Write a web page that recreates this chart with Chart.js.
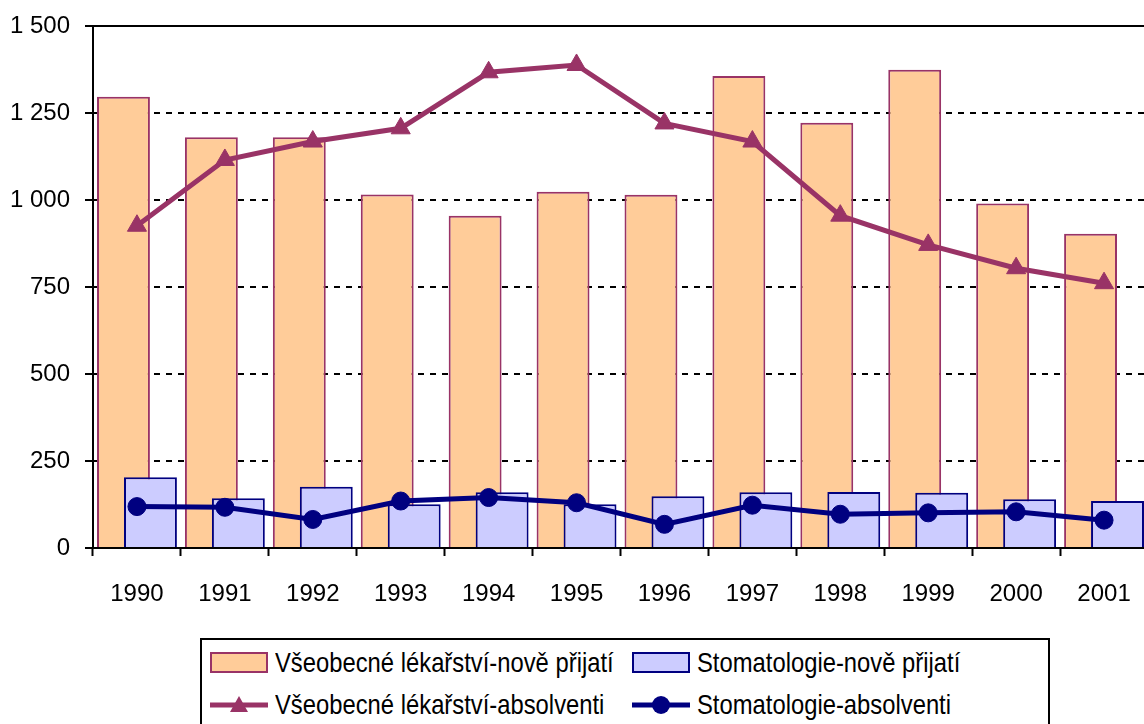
<!DOCTYPE html>
<html>
<head>
<meta charset="utf-8">
<script src="https://cdn.jsdelivr.net/npm/chart.js@4.4.1/dist/chart.umd.min.js"></script>
<style>
  html, body { margin: 0; padding: 0; background: #fff; overflow: hidden; width: 1144px; height: 724px; }
  #wrap { position: absolute; left: 0; top: 0; width: 1160px; height: 624px; }
  #legend {
    position: absolute; left: 200px; top: 638px; width: 846px; height: 100px;
    border: 2px solid #000; background: #fff;
    font-family: 'Liberation Sans', Arial, sans-serif;
    font-size: 28px; color: #000;
  }
  .item { position: absolute; height: 42px; line-height: 42px; white-space: nowrap; }
  .item svg { position: absolute; left: 0; top: 10px; }
  .item span { position: absolute; left: 65px; top: 0; transform: scaleX(0.85); transform-origin: 0 50%; }
</style>
</head>
<body>
<div id="wrap"><canvas id="chart" width="1160" height="624"></canvas></div>
<div id="legend"></div>
<script>
const years = ['1990', '1991', '1992', '1993', '1994', '1995', '1996', '1997', '1998', '1999', '2000', '2001'];
const lekarstviPrijati = [1297, 1180, 1180, 1016, 955, 1024, 1015, 1356, 1222, 1374, 990, 903];
const stomatologiePrijati = [203, 143, 176, 126, 160, 126, 149, 160, 161, 159, 140, 135];
const lekarstviAbsolventi = [926, 1115, 1168, 1206, 1367, 1388, 1220, 1168, 955, 871, 804, 761];
const stomatologieAbsolventi = [119, 117, 82, 135, 145, 130, 68, 123, 97, 101, 104, 80];
const yTicks = [0, 250, 500, 750, 1000, 1250, 1500];

const names = [
  'Všeobecné lékařství-nově přijatí',
  'Stomatologie-nově přijatí',
  'Všeobecné lékařství-absolventi',
  'Stomatologie-absolventi'
];

const PURPLE = '#993366';
const ORANGE = '#FFCC99';
const NAVY = '#000080';
const LILAC = '#CCCCFF';
const FONT = "'Liberation Sans', Arial, sans-serif";

// thousands with a space, like "1 500"
function fmt(v) {
  if (v < 1000) return String(v);
  return Math.floor(v / 1000) + ' ' + String(v % 1000).padStart(3, '0');
}

// solid line on top of the plot (1 500)
const topLine = {
  id: 'topLine',
  beforeDatasetsDraw(chart) {
    const { ctx, chartArea } = chart;
    ctx.save();
    ctx.strokeStyle = '#000';
    ctx.lineWidth = 2;
    ctx.beginPath();
    ctx.moveTo(chartArea.left, chartArea.top);
    ctx.lineTo(chartArea.right, chartArea.top);
    ctx.stroke();
    ctx.restore();
  }
};

// each bar series sits on its own x axis, so they share a category side by side;
// barPercentage > 1 makes them overlap like the original, order puts the blue one on top
const ctx = document.getElementById('chart').getContext('2d');
const chart = new Chart(ctx, {
  type: 'bar',
  data: {
    labels: years,
    datasets: [
      {
        label: names[0], data: lekarstviPrijati, xAxisID: 'x', order: 3,
        backgroundColor: ORANGE, borderColor: PURPLE, borderWidth: 2,
        categoryPercentage: 0.614, barPercentage: 1.96
      },
      {
        label: names[1], data: stomatologiePrijati, xAxisID: 'x2', order: 2,
        backgroundColor: LILAC, borderColor: NAVY, borderWidth: 2,
        categoryPercentage: 0.614, barPercentage: 1.96
      },
      {
        type: 'line', label: names[2], data: lekarstviAbsolventi, xAxisID: 'x', order: 1,
        borderColor: PURPLE, backgroundColor: PURPLE, borderWidth: 5,
        pointStyle: 'triangle', pointRadius: 11, pointBorderWidth: 1,
        pointBackgroundColor: PURPLE, pointBorderColor: PURPLE, tension: 0
      },
      {
        type: 'line', label: names[3], data: stomatologieAbsolventi, xAxisID: 'x', order: 0,
        borderColor: NAVY, backgroundColor: NAVY, borderWidth: 5,
        pointStyle: 'circle', pointRadius: 9, pointBorderWidth: 1,
        pointBackgroundColor: NAVY, pointBorderColor: NAVY, tension: 0
      }
    ]
  },
  options: {
    responsive: false,
    animation: false,
    layout: { padding: { top: 26, right: 11, bottom: 0, left: 0 } },
    plugins: { legend: { display: false }, tooltip: { enabled: false } },
    scales: {
      x: {
        type: 'category',
        offset: true,
        grid: {
          display: true, drawOnChartArea: false, offset: true,
          tickLength: 8, tickWidth: 2, tickColor: '#000', color: '#000'
        },
        border: { display: true, color: '#000', width: 2 },
        ticks: { color: '#000', font: { family: FONT, size: 24 }, padding: 24, maxRotation: 0, autoSkip: false },
        afterFit(s) { s.height = 76; }
      },
      x2: {
        type: 'category',
        display: false,
        offset: true,
        grid: { offset: true }
      },
      y: {
        min: 0,
        max: 1500,
        afterBuildTicks(s) { s.ticks = yTicks.map(v => ({ value: v })); },
        grid: { color: '#000', lineWidth: 2, tickLength: 8, tickWidth: 2, tickColor: '#000' },
        border: { display: true, color: '#000', width: 2, dash: [6, 6] },
        ticks: { color: '#000', font: { family: FONT, size: 24 }, padding: 15, callback: v => fmt(v) },
        afterFit(s) { s.width = 93; s.paddingTop = 0; s.paddingBottom = 0; }
      }
    }
  },
  plugins: [topLine]
});

// legend box, two columns
function marker(kind) {
  if (kind === 0) return '<svg width="60" height="22"><rect x="1" y="1" width="56" height="19" fill="' + ORANGE + '" stroke="' + PURPLE + '" stroke-width="2"/></svg>';
  if (kind === 1) return '<svg width="60" height="22"><rect x="1" y="1" width="56" height="19" fill="' + LILAC + '" stroke="' + NAVY + '" stroke-width="2"/></svg>';
  if (kind === 2) return '<svg width="60" height="22"><line x1="0" y1="11" x2="58" y2="11" stroke="' + PURPLE + '" stroke-width="5"/><polygon points="29,2 38,18 20,18" fill="' + PURPLE + '"/></svg>';
  return '<svg width="60" height="22"><line x1="0" y1="11" x2="58" y2="11" stroke="' + NAVY + '" stroke-width="5"/><circle cx="29" cy="11" r="9" fill="' + NAVY + '"/></svg>';
}
const legend = document.getElementById('legend');
const spots = [[8, 2], [430, 2], [8, 44], [430, 44]];
names.forEach((n, i) => {
  const d = document.createElement('div');
  d.className = 'item';
  d.style.left = spots[i][0] + 'px';
  d.style.top = spots[i][1] + 'px';
  d.innerHTML = marker(i) + '<span>' + n + '</span>';
  legend.appendChild(d);
});
</script>
</body>
</html>
